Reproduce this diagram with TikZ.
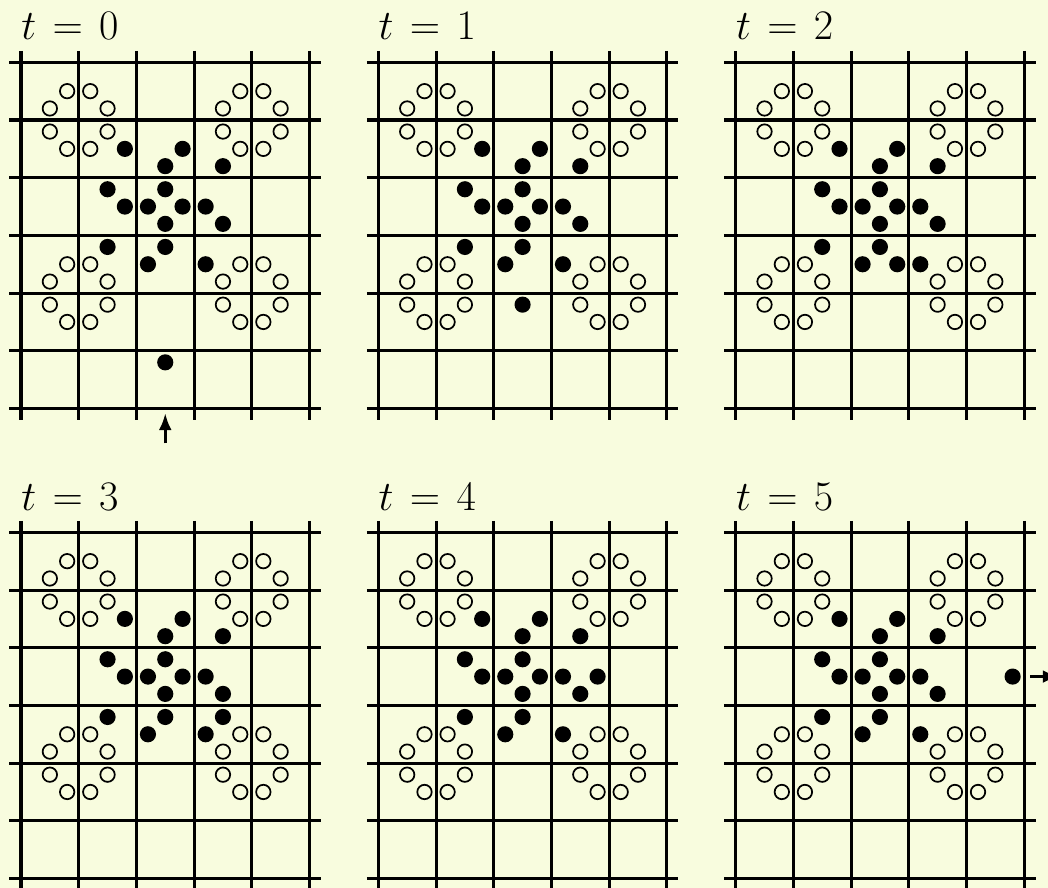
\documentclass[tikz,border=0pt]{standalone}
\usepackage{amsmath}
\usepackage{tikz}
\usetikzlibrary{arrows.meta}
\definecolor{paper}{RGB}{248,252,222}

\begin{document}
\begin{tikzpicture}[
  site/.style={
    circle,
    draw,
    line width=0.85pt,
    inner sep=0pt,
    minimum size=2.5mm
  },
  ball/.style={
    circle,
    fill=black,
    inner sep=0pt,
    minimum size=2.8mm
  },
  wire/.style={line width=1.5pt},
  pointer/.style={line width=1.3pt,-{Latex[length=2.9mm,width=2.2mm]}},
  stamp/.style={anchor=base west,inner sep=0pt,font=\fontsize{21.5}{26}\selectfont}
]
% Page, the same size as the reference.
\fill[paper] (-0.364,1.080) rectangle (17.799,-14.310);
\useasboundingbox (-0.364,1.080) rectangle (17.799,-14.310);
\clip (-0.364,1.080) rectangle (17.799,-14.310);
% One panel per time step: grid, empty sites, occupied sites.
\foreach \t/\xo/\yo/\mx/\my in {0/0/0/2.5/5.2, 1/6.193/0/2.5/4.2, 2/12.386/0/2.8/3.5,
    3/0/-8.146/3.5/3.2, 4/6.193/-8.146/3.8/2.5, 5/12.386/-8.146/4.8/2.5}{
  \begin{scope}[shift={(\xo,\yo)}]
    \node[stamp] (title-\t) at (0,0.387) {$t\mskip2mu=\mskip2mu\t$};
    \foreach \i in {0,...,5}
      \draw[wire] (\i,0.2) -- (\i,-6.2);
    \foreach \j in {0,...,6}
      \draw[wire] (-0.2,-\j) -- (5.2,-\j);
    % empty sites, eight round each of four vertices
    \foreach \vx/\vy [count=\v] in {1/1,4/1,1/4,4/4}
      \foreach \dx/\dy [count=\k] in {-0.2/0.5,0.2/0.5,-0.5/0.2,0.5/0.2,
          -0.5/-0.2,0.5/-0.2,-0.2/-0.5,0.2/-0.5}
        \node[site] (hole-\t-\v-\k) at ([shift={(\dx,\dy)}]\vx,-\vy) {};
    % occupied sites
    \foreach \x/\y [count=\k] in {1.8/1.5,2.8/1.5,2.5/1.8,3.5/1.8,1.5/2.2,2.5/2.2,
        1.8/2.5,2.2/2.5,2.8/2.5,3.2/2.5,2.5/2.8,3.5/2.8,1.5/3.2,2.5/3.2,2.2/3.5,3.2/3.5}
      \node[ball] (dot-\t-\k) at (\x,-\y) {};
    \node[ball] (dot-\t-m) at (\mx,-\my) {};
  \end{scope}
}
% particle coming in and going out
\coordinate (feed) at (2.5,-6.603);
\coordinate (feedtip) at (2.5,-6.083);
\draw[pointer] (feed) -- (feedtip);
\coordinate (exit) at (17.487,-10.646);
\coordinate (exittip) at (18.0,-10.646);
\draw[pointer] (exit) -- (exittip);
\end{tikzpicture}
\end{document}
